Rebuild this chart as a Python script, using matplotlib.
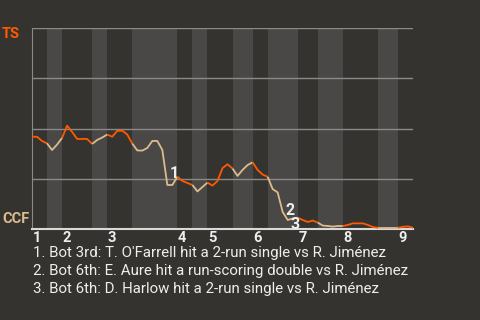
import numpy as np
import matplotlib.pyplot as plt

# plays per half inning (top 1, bot 1, top 2, ...), no bottom 9th
half_counts = [3, 3, 6, 3, 5, 9, 3, 3, 5, 4, 3, 6, 4, 5, 7, 4, 3]

# TS win probability after each play
wp = [0.459, 0.459, 0.438, 0.426, 0.393, 0.420, 0.453, 0.514, 0.483, 0.448,
      0.448, 0.448, 0.423, 0.443, 0.455, 0.470, 0.459, 0.488, 0.489, 0.470,
      0.425, 0.391, 0.390, 0.403, 0.438, 0.438, 0.393, 0.219, 0.219, 0.260,
      0.239, 0.229, 0.219, 0.187, 0.209, 0.231, 0.216, 0.239, 0.303, 0.322,
      0.301, 0.264, 0.294, 0.318, 0.332, 0.294, 0.271, 0.260, 0.199, 0.182,
      0.085, 0.045, 0.052, 0.056, 0.045, 0.035, 0.042, 0.032, 0.017, 0.015,
      0.012, 0.015, 0.015, 0.020, 0.028, 0.028, 0.028, 0.020, 0.010, 0.006,
      0.006, 0.006, 0.006, 0.006, 0.011, 0.013, 0.006]

key_plays = [27, 50, 51]
key_notes = ["1. Bot 3rd: T. O'Farrell hit a 2-run single vs R. Jiménez",
             "2. Bot 6th: E. Aure hit a run-scoring double vs R. Jiménez",
             "3. Bot 6th: D. Harlow hit a 2-run single vs R. Jiménez"]

bg = '#353330'
band = '#4a4846'
orange = '#ff5a00'
tan = '#dcbb8c'
txt = '#eeeeee'

plt.rcParams['font.family'] = ['Roboto', 'DejaVu Sans']

fig = plt.figure(figsize=(4.8, 3.2), dpi=100, facecolor=bg)
ax = fig.add_axes([32/480, 91/320, 381/480, 201/320])
ax.set_facecolor(bg)

x = np.arange(len(wp))
starts = np.concatenate([[0], np.cumsum(half_counts)[:-1]])
for k, (s, n) in enumerate(zip(starts, half_counts)):
    e = s + n
    if k % 2 == 1:
        ax.axvspan(s, e, color=band, lw=0, zorder=0)
    col = orange if k % 2 == 0 else tan
    ax.plot(x[s:e+1], wp[s:e+1], color=col, lw=1.3, zorder=3,
            solid_capstyle='butt')
    if k % 2 == 0:
        ax.text(s + 0.1, -0.01, str(k // 2 + 1), color=txt, fontsize=10.5,
                fontweight='bold', ha='left', va='top',
                transform=ax.transData, clip_on=False)

for yv in [0.25, 0.5, 0.75, 1.0]:
    ax.axhline(yv, color='#8c8a88', lw=1, zorder=1)

offs = [(2, 8), (2, 1), (2, -3)]
for j, (p, o) in enumerate(zip(key_plays, offs)):
    ax.annotate(str(j + 1), (x[p], wp[p]), xytext=o, textcoords='offset points',
                color=txt, fontsize=11.5, fontweight='bold', ha='left',
                va='center', zorder=4)

ax.set_xlim(0, len(wp) - 1)
ax.set_ylim(0, 1)
ax.set_xticks([])
ax.set_yticks([])
for s in ['top', 'right']:
    ax.spines[s].set_visible(False)
ax.spines['left'].set_color('#8c8a88')
ax.spines['bottom'].set_color('#d8d8d8')
ax.spines['bottom'].set_linewidth(1.5)

fig.text(2/480, 1 - 34/320, 'TS', color=orange, fontsize=10.5, fontweight='bold',
         va='center', ha='left')
fig.text(2/480, 1 - 219/320, 'CCF', color=tan, fontsize=10.5, fontweight='bold',
         va='center', ha='left')

for j, note in enumerate(key_notes):
    fig.text(33/480, 1 - (253 + 18 * j)/320, note, color=txt, fontsize=10.8,
             va='center', ha='left')

fig.savefig('out.png', dpi=100, facecolor=bg)
